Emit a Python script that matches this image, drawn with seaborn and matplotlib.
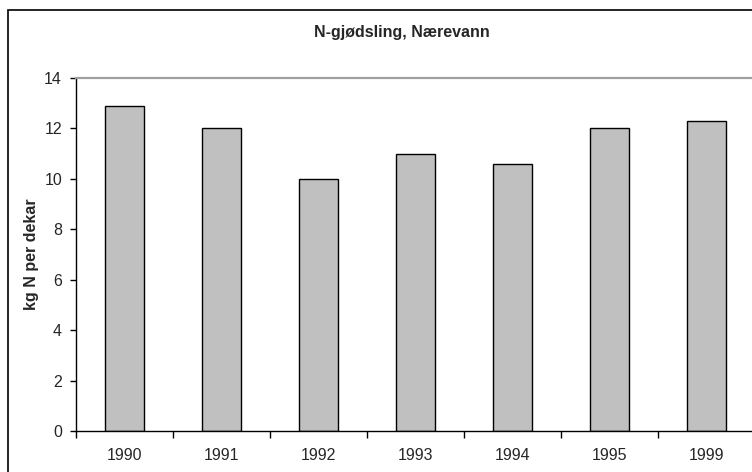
import numpy as np
import pandas as pd
import seaborn as sns
import matplotlib.pyplot as plt
from matplotlib.patches import Rectangle

years = ['1990', '1991', '1992', '1993', '1994', '1995', '1999']
kg_n = [12.9, 12.0, 10.0, 11.0, 10.6, 12.0, 12.3]
yticks = [0, 2, 4, 6, 8, 10, 12, 14]

df = pd.DataFrame({'aar': years, 'kg': kg_n})

sns.set_style("white")
plt.rcParams['font.family'] = ['Liberation Sans', 'DejaVu Sans']

fig = plt.figure(figsize=(7.52, 4.72), dpi=100)
ax = fig.add_axes([76 / 752, 1 - 431 / 472, 679 / 752, (431 - 78) / 472])

sns.barplot(data=df, x='aar', y='kg', color='#c0c0c0', edgecolor='black',
            linewidth=1.0, width=0.4, saturation=1, ax=ax)

ax.set_xlim(-0.5, len(years) - 0.5)
ax.set_ylim(0, 14)
ax.set_yticks(yticks)
ax.set_yticklabels([str(t) for t in yticks], fontsize=11.5)

# ticks between categories, labels in the middle
ax.set_xticks(np.arange(-0.5, len(years), 1))
ax.set_xticklabels([''] * (len(years) + 1))
ax.set_xticks(range(len(years)), minor=True)
ax.set_xticklabels(years, minor=True, fontsize=11.5)
ax.tick_params(axis='x', which='major', direction='out', length=5, width=1, color='black', bottom=True)
ax.tick_params(axis='x', which='minor', length=0, pad=12)
ax.tick_params(axis='y', direction='out', length=4, width=1, color='black', left=True, pad=6)

ax.set_xlabel('')
ax.set_ylabel('kg N per dekar', fontsize=11.5, fontweight='bold')
ax.yaxis.set_label_coords(-0.054, 0.5)

for s in ['left', 'bottom']:
    ax.spines[s].set_color('black')
    ax.spines[s].set_linewidth(1.0)
ax.spines['top'].set_color('#a0a0a0')
ax.spines['top'].set_linewidth(1.6)
ax.spines['right'].set_visible(False)

fig.text(402 / 752, 1 - 32 / 472, 'N-gjødsling, Nærevann', ha='center', va='center',
         fontsize=11.5, fontweight='bold')

# outer chart frame
fig.add_artist(Rectangle((8 / 752, -0.1), 2, 1 - 10 / 472 + 0.1, transform=fig.transFigure,
                         fill=False, edgecolor='black', linewidth=1.2))

fig.savefig('out.png', dpi=100)
